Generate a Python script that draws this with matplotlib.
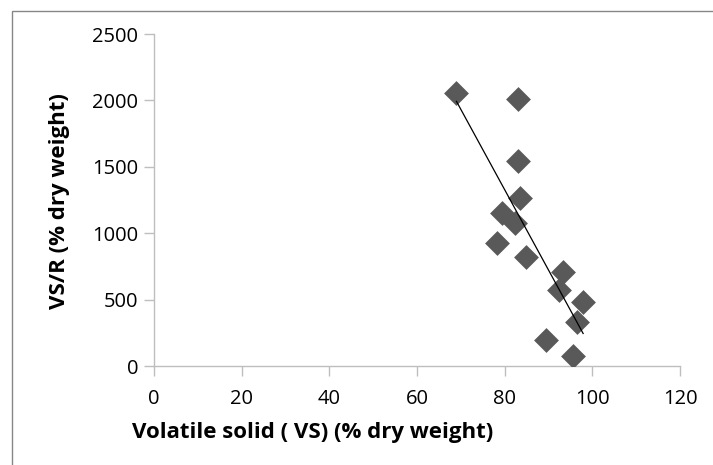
import numpy as np
import matplotlib.pyplot as plt
from matplotlib.patches import Rectangle

# --- Data ---
vs_pct = [69.0, 83.0, 83.0, 83.5, 79.3, 82.4, 78.3, 84.9, 93.4, 92.3, 97.9, 96.4, 89.4, 95.7]
vs_r = [2058, 2008, 1546, 1268, 1155, 1080, 924, 823, 710, 572, 484, 334, 196, 75]
x_ticks = [0, 20, 40, 60, 80, 100, 120]
y_ticks = [0, 500, 1000, 1500, 2000, 2500]

plt.rcParams['font.family'] = ['Open Sans', 'DejaVu Sans']

fig = plt.figure(figsize=(7.13, 4.65), dpi=100)
ax = fig.add_axes([154 / 713, 1 - 366 / 465, (680 - 154) / 713, (366 - 34) / 465])

# outer frame of the chart area
fig.patches.append(Rectangle((12 / 713, -0.1), 1.2, 0.1 + (1 - 11 / 465),
                             transform=fig.transFigure, fill=False,
                             edgecolor='#878787', linewidth=1.0))

ax.scatter(vs_pct, vs_r, marker='D', s=160, color='#595959', linewidths=0, zorder=3)

# linear trend line
slope, icpt = np.polyfit(vs_pct, vs_r, 1)
xs = np.array([min(vs_pct), max(vs_pct)])
ax.plot(xs, slope * xs + icpt, color='black', linewidth=0.9, zorder=4)

ax.set_xlim(0, 120)
ax.set_ylim(0, 2500)
ax.set_xticks(x_ticks)
ax.set_yticks(y_ticks)

for side in ('top', 'right'):
    ax.spines[side].set_visible(False)
for side in ('left', 'bottom'):
    ax.spines[side].set_color('#BEBEBE')
    ax.spines[side].set_linewidth(1.0)

ax.tick_params(axis='both', direction='out', length=7.5, width=1.0,
               color='#BEBEBE', labelsize=14.5, labelcolor='black')
ax.tick_params(axis='y', pad=4)
ax.tick_params(axis='x', pad=9)

fig.text(60 / 713, 1 - 201 / 465, 'VS/R (% dry weight)', rotation=90,
         ha='center', va='center', fontsize=16, fontweight='bold')
fig.text(313 / 713, 1 - 432 / 465, 'Volatile solid ( VS) (% dry weight)',
         ha='center', va='center', fontsize=16, fontweight='bold')

fig.savefig('out.png', dpi=100)
